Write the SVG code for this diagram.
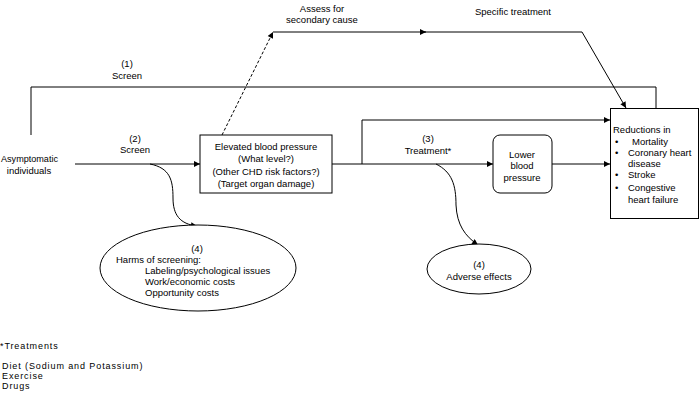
<svg xmlns="http://www.w3.org/2000/svg" width="700" height="402" viewBox="0 0 700 402">
<defs>
<marker id="ah" viewBox="0 0 10 10" refX="10" refY="5" markerWidth="8" markerHeight="6" markerUnits="userSpaceOnUse" orient="auto">
<path d="M0,0 L10,5 L0,10 z" fill="#000"/>
</marker>
<style>
text{font-family:"Liberation Sans",Arial,sans-serif;font-size:9.5px;fill:#000}
.c{text-anchor:middle}
.ln{fill:none;stroke:#000;stroke-width:1}
.fn{font-size:9px;letter-spacing:0.9px}
</style>
</defs>
<rect width="700" height="402" fill="#fff"/>
<g id="connectors">
<path class="ln" d="M31,135 V87 H656 V108"/>
<path class="ln" d="M75,164 H200" marker-end="url(#ah)"/>
<path class="ln" d="M222,135 L273,32" stroke-dasharray="3,2" marker-end="url(#ah)"/>
<path class="ln" d="M273,32 H426" marker-end="url(#ah)"/>
<path class="ln" d="M424,32 H582 L626,108" marker-end="url(#ah)"/>
<path class="ln" d="M332,164 H493" marker-end="url(#ah)"/>
<path class="ln" d="M362,164 V120 H610" marker-end="url(#ah)"/>
<path class="ln" d="M552,164 H610" marker-end="url(#ah)"/>
<path class="ln" d="M150,164 C170,168 173,180 173,198 C173,215 180,224 197,226" marker-end="url(#ah)"/>
<path class="ln" d="M436,164 C452,172 456,185 456,205 C457,225 465,236 478,245" marker-end="url(#ah)"/>
</g>
<g id="labels">
<text class="c" x="322" y="12">Assess for</text>
<text class="c" x="322" y="23">secondary cause</text>
<text class="c" x="513" y="15">Specific treatment</text>
<text class="c" x="127" y="67">(1)</text>
<text class="c" x="127" y="79">Screen</text>
<text class="c" x="135" y="142">(2)</text>
<text class="c" x="135" y="153">Screen</text>
<text class="c" x="428" y="142">(3)</text>
<text class="c" x="428" y="154">Treatment*</text>
</g>
<g id="asymptomatic">
<text x="1" y="162" textLength="57" lengthAdjust="spacingAndGlyphs">Asymptomatic</text>
<text class="c" x="29" y="174">individuals</text>
</g>
<g id="elevated">
<rect x="200" y="135" width="132" height="58" fill="#fff" stroke="#000"/>
<text class="c" x="266" y="150">Elevated blood pressure</text>
<text class="c" x="266" y="162">(What level?)</text>
<text class="c" x="266" y="175">(Other CHD risk factors?)</text>
<text class="c" x="266" y="187">(Target organ damage)</text>
</g>
<g id="lower">
<rect x="493" y="135" width="59" height="58" rx="7" fill="#fff" stroke="#000"/>
<text class="c" x="522" y="158">Lower</text>
<text class="c" x="522" y="169">blood</text>
<text class="c" x="522" y="181">pressure</text>
</g>
<g id="reductions">
<rect x="610.5" y="108.5" width="88" height="110" fill="#fff" stroke="#000"/>
<text x="613" y="133">Reductions in</text>
<text x="615" y="145">•</text><text x="632" y="145">Mortality</text>
<text x="615" y="156">•</text><text x="628" y="156">Coronary heart</text>
<text x="628" y="167">disease</text>
<text x="615" y="178">•</text><text x="628" y="178">Stroke</text>
<text x="615" y="191">•</text><text x="628" y="191">Congestive</text>
<text x="628" y="203">heart failure</text>
</g>
<g id="harms">
<ellipse cx="198" cy="268" rx="98" ry="43" fill="#fff" stroke="#000"/>
<text class="c" x="197" y="252">(4)</text>
<text x="116" y="263">Harms of screening:</text>
<text x="145" y="274">Labeling/psychological issues</text>
<text x="145" y="285">Work/economic costs</text>
<text x="145" y="296">Opportunity costs</text>
</g>
<g id="adverse">
<ellipse cx="479" cy="269" rx="52" ry="25" fill="#fff" stroke="#000"/>
<text class="c" x="479" y="268">(4)</text>
<text class="c" x="479" y="280">Adverse effects</text>
</g>
<g id="footnote">
<text class="fn" x="0" y="349">*Treatments</text>
<text class="fn" x="2" y="369">Diet (Sodium and Potassium)</text>
<text class="fn" x="2" y="379">Exercise</text>
<text class="fn" x="2" y="389">Drugs</text>
</g>
</svg>
